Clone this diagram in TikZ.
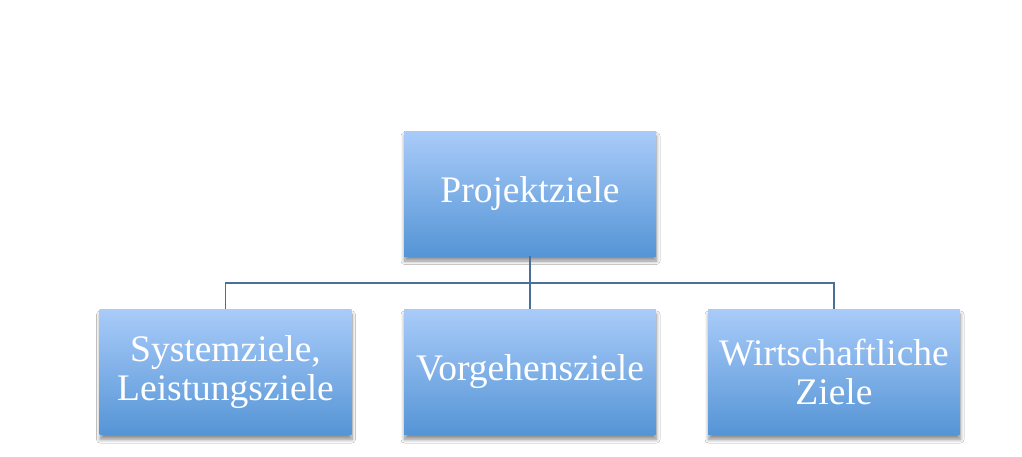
\documentclass[tikz,border=0pt]{standalone}
\usepackage{fontspec}
\setmainfont{Liberation Serif}
\usetikzlibrary{shadows.blur}
\definecolor{boxtop}{HTML}{A9CBF9}
\definecolor{boxbot}{HTML}{5595D6}
\definecolor{linecol}{HTML}{4A7098}
\tikzset{
  goal/.style={rectangle, minimum width=252pt, minimum height=125pt, inner sep=0pt,
    top color=boxtop, bottom color=boxbot, draw=none,
    blur shadow={shadow xshift=0.5pt, shadow yshift=-5pt, shadow blur radius=3.5pt, shadow blur steps=8, shadow opacity=45},
    text=white, align=center, font=\fontsize{37.5}{39}\selectfont},
  conn/.style={draw=linecol, line width=1.4pt}
}
\begin{document}
\begin{tikzpicture}[x=1pt,y=-1pt]
\useasboundingbox[fill=white] (0,0) rectangle (1022,456);
\node[goal] (top) at (530,193.5) {Projektziele};
\node[goal] (b1) at (225.5,372) {Systemziele,\\Leistungsziele};
\node[goal] (b2) at (530,372) {Vorgehensziele};
\node[goal] (b3) at (834,372) {Wirtschaftliche\\Ziele};
\coordinate (j) at (530,283);
\draw[conn] (top.south) -- (b2.north);
\draw[conn] (j) -| (b1.north);
\draw[conn] (j) -| (b3.north);
\end{tikzpicture}
\end{document}
